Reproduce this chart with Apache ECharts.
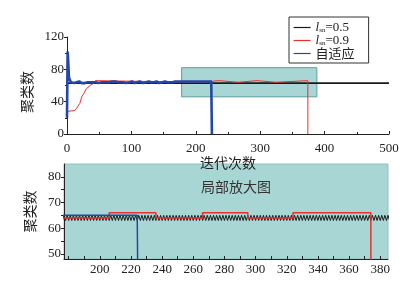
<!DOCTYPE html>
<html>
<head>
<meta charset="utf-8">
<script src="https://cdn.jsdelivr.net/npm/echarts@6/dist/echarts.min.js"></script>
<style>
    html, body { margin: 0; padding: 0; background: #fff; }
    #main { width: 405px; height: 287px; }
</style>
</head>
<body>
<div id="main"></div>
<script>
// 聚类数 vs 迭代次数
var seriesNames = ['lsn=0.5', 'lsn=0.9', '自适应'];

// l=0.5 : one value per iteration, 0..500
var blackY = [
    63,65,63,65,63,65,63,65,63,65,63,65,63,65,63,65,63,65,63,65,
    63,65,63,65,63,65,63,65,63,65,63,65,63,65,63,65,63,65,63,65,
    63,65,63,65,63,65,63,65,63,65,63,65,63,65,63,65,63,65,63,65,
    63,65,63,65,63,65,63,65,63,65,63,65,63,65,63,65,63,65,63,65,
    63,65,63,65,63,65,63,65,63,65,63,65,63,65,63,65,63,65,63,65,
    63,65,63,65,63,65,63,65,63,65,63,65,63,65,63,65,63,65,63,65,
    63,65,63,65,63,65,63,65,63,65,63,65,63,65,63,65,63,65,63,65,
    63,65,63,65,63,65,63,65,63,65,63,65,63,65,63,65,63,65,63,65,
    63,65,63,65,63,65,63,65,63,65,63,65,63,65,63,65,63,65,63,65,
    63,65,63,65,63,65,63,65,63,65,63,65,63,65,63,65,63,65,63,65,
    63,65,63,65,63,65,63,65,63,65,63,65,63,65,63,65,63,65,63,65,
    63,65,63,65,63,65,63,65,63,65,63,65,63,65,63,65,63,65,63,65,
    63,65,63,65,63,65,63,65,63,65,63,65,63,65,63,65,63,65,63,65,
    63,65,63,65,63,65,63,65,63,65,63,65,63,65,63,65,63,65,63,65,
    63,65,63,65,63,65,63,65,63,65,63,65,63,65,63,65,63,65,63,65,
    63,65,63,65,63,65,63,65,63,65,63,65,63,65,63,65,63,65,63,65,
    63,65,63,65,63,65,63,65,63,65,63,65,63,65,63,65,63,65,63,65,
    63,65,63,65,63,65,63,65,63,65,63,65,63,65,63,65,63,65,63,65,
    63,65,63,65,63,65,63,65,63,65,63,65,63,65,63,65,63,65,63,65,
    63,65,63,65,63,65,63,65,63,65,63,65,63,65,63,65,63,65,63,65,
    63,65,63,65,63,65,63,65,63,65,63,65,63,65,63,65,63,65,63,65,
    63,65,63,65,63,65,63,65,63,65,63,65,63,65,63,65,63,65,63,65,
    63,65,63,65,63,65,63,65,63,65,63,65,63,65,63,65,63,65,63,65,
    63,65,63,65,63,65,63,65,63,65,63,65,63,65,63,65,63,65,63,65,
    63,65,63,65,63,65,63,65,63,65,63,65,63,65,63,65,63,65,63,65,
    63
];

// l=0.9 : [iteration, value] break points
var redPts = [
    [0,28],[12,29],[15,32],[18,34],[20,38],[23,46],[26,50],[30,56],[33,58],
    [36,60],[40,62],[44,66],[47,64],[206,64],[206,66],[236,66],[236,64],
    [266,64],[266,66],[295,66],[295,64],[324,64],[324,66],[374,66],[374,0]
];

// 自适应 : one value per iteration, 0..225, then falls to 0
var blueY = [
    20,102,88,70,70,68,64,64,63,64,64,63,65,64,64,64,63,64,64,65,
    64,64,64,63,64,65,64,64,63,64,64,65,64,64,63,64,64,64,65,64,
    64,64,63,64,65,64,64,64,64,63,64,65,64,64,64,63,64,65,64,64,
    64,63,64,65,64,64,64,64,63,64,65,64,64,64,64,65,63,64,64,64,
    64,64,65,64,63,64,64,64,64,65,64,64,63,64,65,64,64,64,64,63,
    64,65,64,64,64,63,64,64,65,64,64,64,63,65,64,64,64,64,63,64,
    65,64,64,64,63,64,64,65,64,64,63,64,65,64,64,64,64,63,64,65,
    64,64,64,63,64,65,64,64,64,63,64,64,65,64,64,63,64,65,64,64,
    64,63,64,65,64,64,65,65,65,65,65,65,65,65,65,65,65,65,65,65,
    65,65,65,65,65,65,65,65,65,65,65,65,65,65,65,65,65,65,65,65,
    65,65,65,65,65,65,65,65,65,65,65,65,65,65,65,65,65,65,65,65,
    65,65,65,65,65,65
];
var blueStop = 225;

// zoomed window drawn on the upper chart: [x0, y0], [x1, y1]
var zoomBox = [[178, 46], [388, 82]];

var zoomXLabels = [200, 220, 240, 260, 280, 300, 320, 340, 360, 380];
var zoomXTicks = [180, 190, 200, 210, 220, 230, 240, 250, 260, 270, 280, 290, 300, 310, 320, 330, 340, 350, 360, 370, 380];
var zoomYLabels = [50, 60, 70, 80];
var zoomYTicks = [50, 55, 60, 65, 70, 75, 80];

var blackData = blackY.map(function (v, i) { return [i, v]; });
var blueData = blueY.map(function (v, i) { return [i, v]; });
blueData.push([blueStop, 0]);

var colors = ['#1a1a1a', '#e8302c', '#2446a8'];
var cyan = '#a8d6d4';
var numFont = 'Liberation Serif';
var cjkFont = 'Noto Sans CJK SC';

var myChart = echarts.init(document.getElementById('main'));

function axisCommon() {
    return {
        axisLine: { lineStyle: { color: '#222', width: 1 } },
        axisLabel: { color: '#222', fontFamily: numFont, fontSize: 13 },
        splitLine: { show: false },
        nameTextStyle: { color: '#222', fontFamily: cjkFont, fontSize: 14 }
    };
}

function makeLine(name, data, xi, color, width, z) {
    return {
        name: name,
        type: 'line',
        xAxisIndex: xi,
        yAxisIndex: xi,
        data: data,
        symbol: 'none',
        color: color,
        lineStyle: { color: color, width: width },
        z: z
    };
}

var option = {
    animation: false,
    legend: {
        data: seriesNames,
        orient: 'vertical',
        left: 289,
        top: 17,
        padding: [4, 14, 3, 4],
        itemGap: 0,
        itemWidth: 17,
        itemHeight: 10,
        itemStyle: { opacity: 0 },
        lineStyle: { width: 1.2 },
        borderColor: '#333',
        borderWidth: 1,
        backgroundColor: '#fff',
        textStyle: { color: '#222', fontFamily: cjkFont, fontSize: 13, lineHeight: 11,
            rich: {
                i: { fontFamily: numFont, fontStyle: 'italic', fontSize: 13, color: '#222' },
                s: { fontFamily: numFont, fontSize: 7, color: '#222', padding: [5, 0, 0, 0] },
                t: { fontFamily: numFont, fontSize: 13, color: '#222' }
            }
        },
        formatter: function (n) {
            if (n.indexOf('=') < 0) return n;
            return '{i|l}{s|sn}{t|=' + n.split('=')[1] + '}';
        }
    },
    title: {
        text: '局部放大图',
        left: 201,
        top: 180,
        padding: 0,
        textStyle: { color: '#333', fontFamily: cjkFont, fontSize: 14, fontWeight: 'normal' }
    },
    grid: [
        { left: 67, top: 37, right: 16, height: 97 },
        { left: 64, top: 164, right: 17, height: 95, show: true, backgroundColor: cyan, borderColor: '#8fc2c0', borderWidth: 1 }
    ],
    xAxis: [
        Object.assign(axisCommon(), {
            type: 'value', gridIndex: 0, min: 0, max: 500, interval: 100,
            name: '迭代次数', nameLocation: 'middle', nameGap: 17,
            axisTick: { inside: true, length: 3, lineStyle: { color: '#222' } },
            minorTick: { show: true, splitNumber: 2, length: 2, lineStyle: { color: '#222' } }
        }),
        Object.assign(axisCommon(), {
            type: 'value', gridIndex: 1, min: 177, max: 385,
            axisTick: { inside: true, length: 3, customValues: zoomXTicks, lineStyle: { color: '#222' } },
            axisLabel: { color: '#222', fontFamily: numFont, fontSize: 13, customValues: zoomXLabels, margin: 4 }
        })
    ],
    yAxis: [
        Object.assign(axisCommon(), {
            type: 'value', gridIndex: 0, min: 0, max: 120, interval: 40,
            name: '聚类数', nameLocation: 'middle', nameGap: 21,
            nameTextStyle: { color: '#222', fontFamily: cjkFont, fontSize: 14, padding: [0, 13, 0, 0] },
            axisTick: { length: 3, lineStyle: { color: '#222' } },
            axisLabel: { color: '#222', fontFamily: numFont, fontSize: 13, margin: 3 },
            minorTick: { show: true, splitNumber: 2, length: 2, lineStyle: { color: '#222' } }
        }),
        Object.assign(axisCommon(), {
            type: 'value', gridIndex: 1, min: 48, max: 85,
            name: '聚类数', nameLocation: 'middle', nameGap: 21,
            axisTick: { length: 3, customValues: zoomYTicks, lineStyle: { color: '#222' } },
            axisLabel: { color: '#222', fontFamily: numFont, fontSize: 13, customValues: zoomYLabels, margin: 3 }
        })
    ],
    series: [
        {
            name: 'box',
            type: 'line',
            xAxisIndex: 0,
            yAxisIndex: 0,
            data: [],
            z: 1,
            markArea: {
                silent: true,
                itemStyle: { color: cyan, borderColor: '#5d9e9c', borderWidth: 1 },
                data: [[{ coord: zoomBox[0] }, { coord: zoomBox[1] }]]
            }
        },
        makeLine(seriesNames[0], blackData, 0, colors[0], 1.6, 3),
        makeLine(seriesNames[1], redPts, 0, colors[1], 1, 4),
        makeLine(seriesNames[2], blueData, 0, colors[2], 2.6, 5),
        makeLine(seriesNames[0], blackData, 1, colors[0], 1, 3),
        makeLine(seriesNames[1], redPts, 1, colors[1], 1.5, 4),
        makeLine(seriesNames[2], blueData, 1, colors[2], 1.5, 5)
    ]
};
myChart.setOption(option);
</script>
</body>
</html>
